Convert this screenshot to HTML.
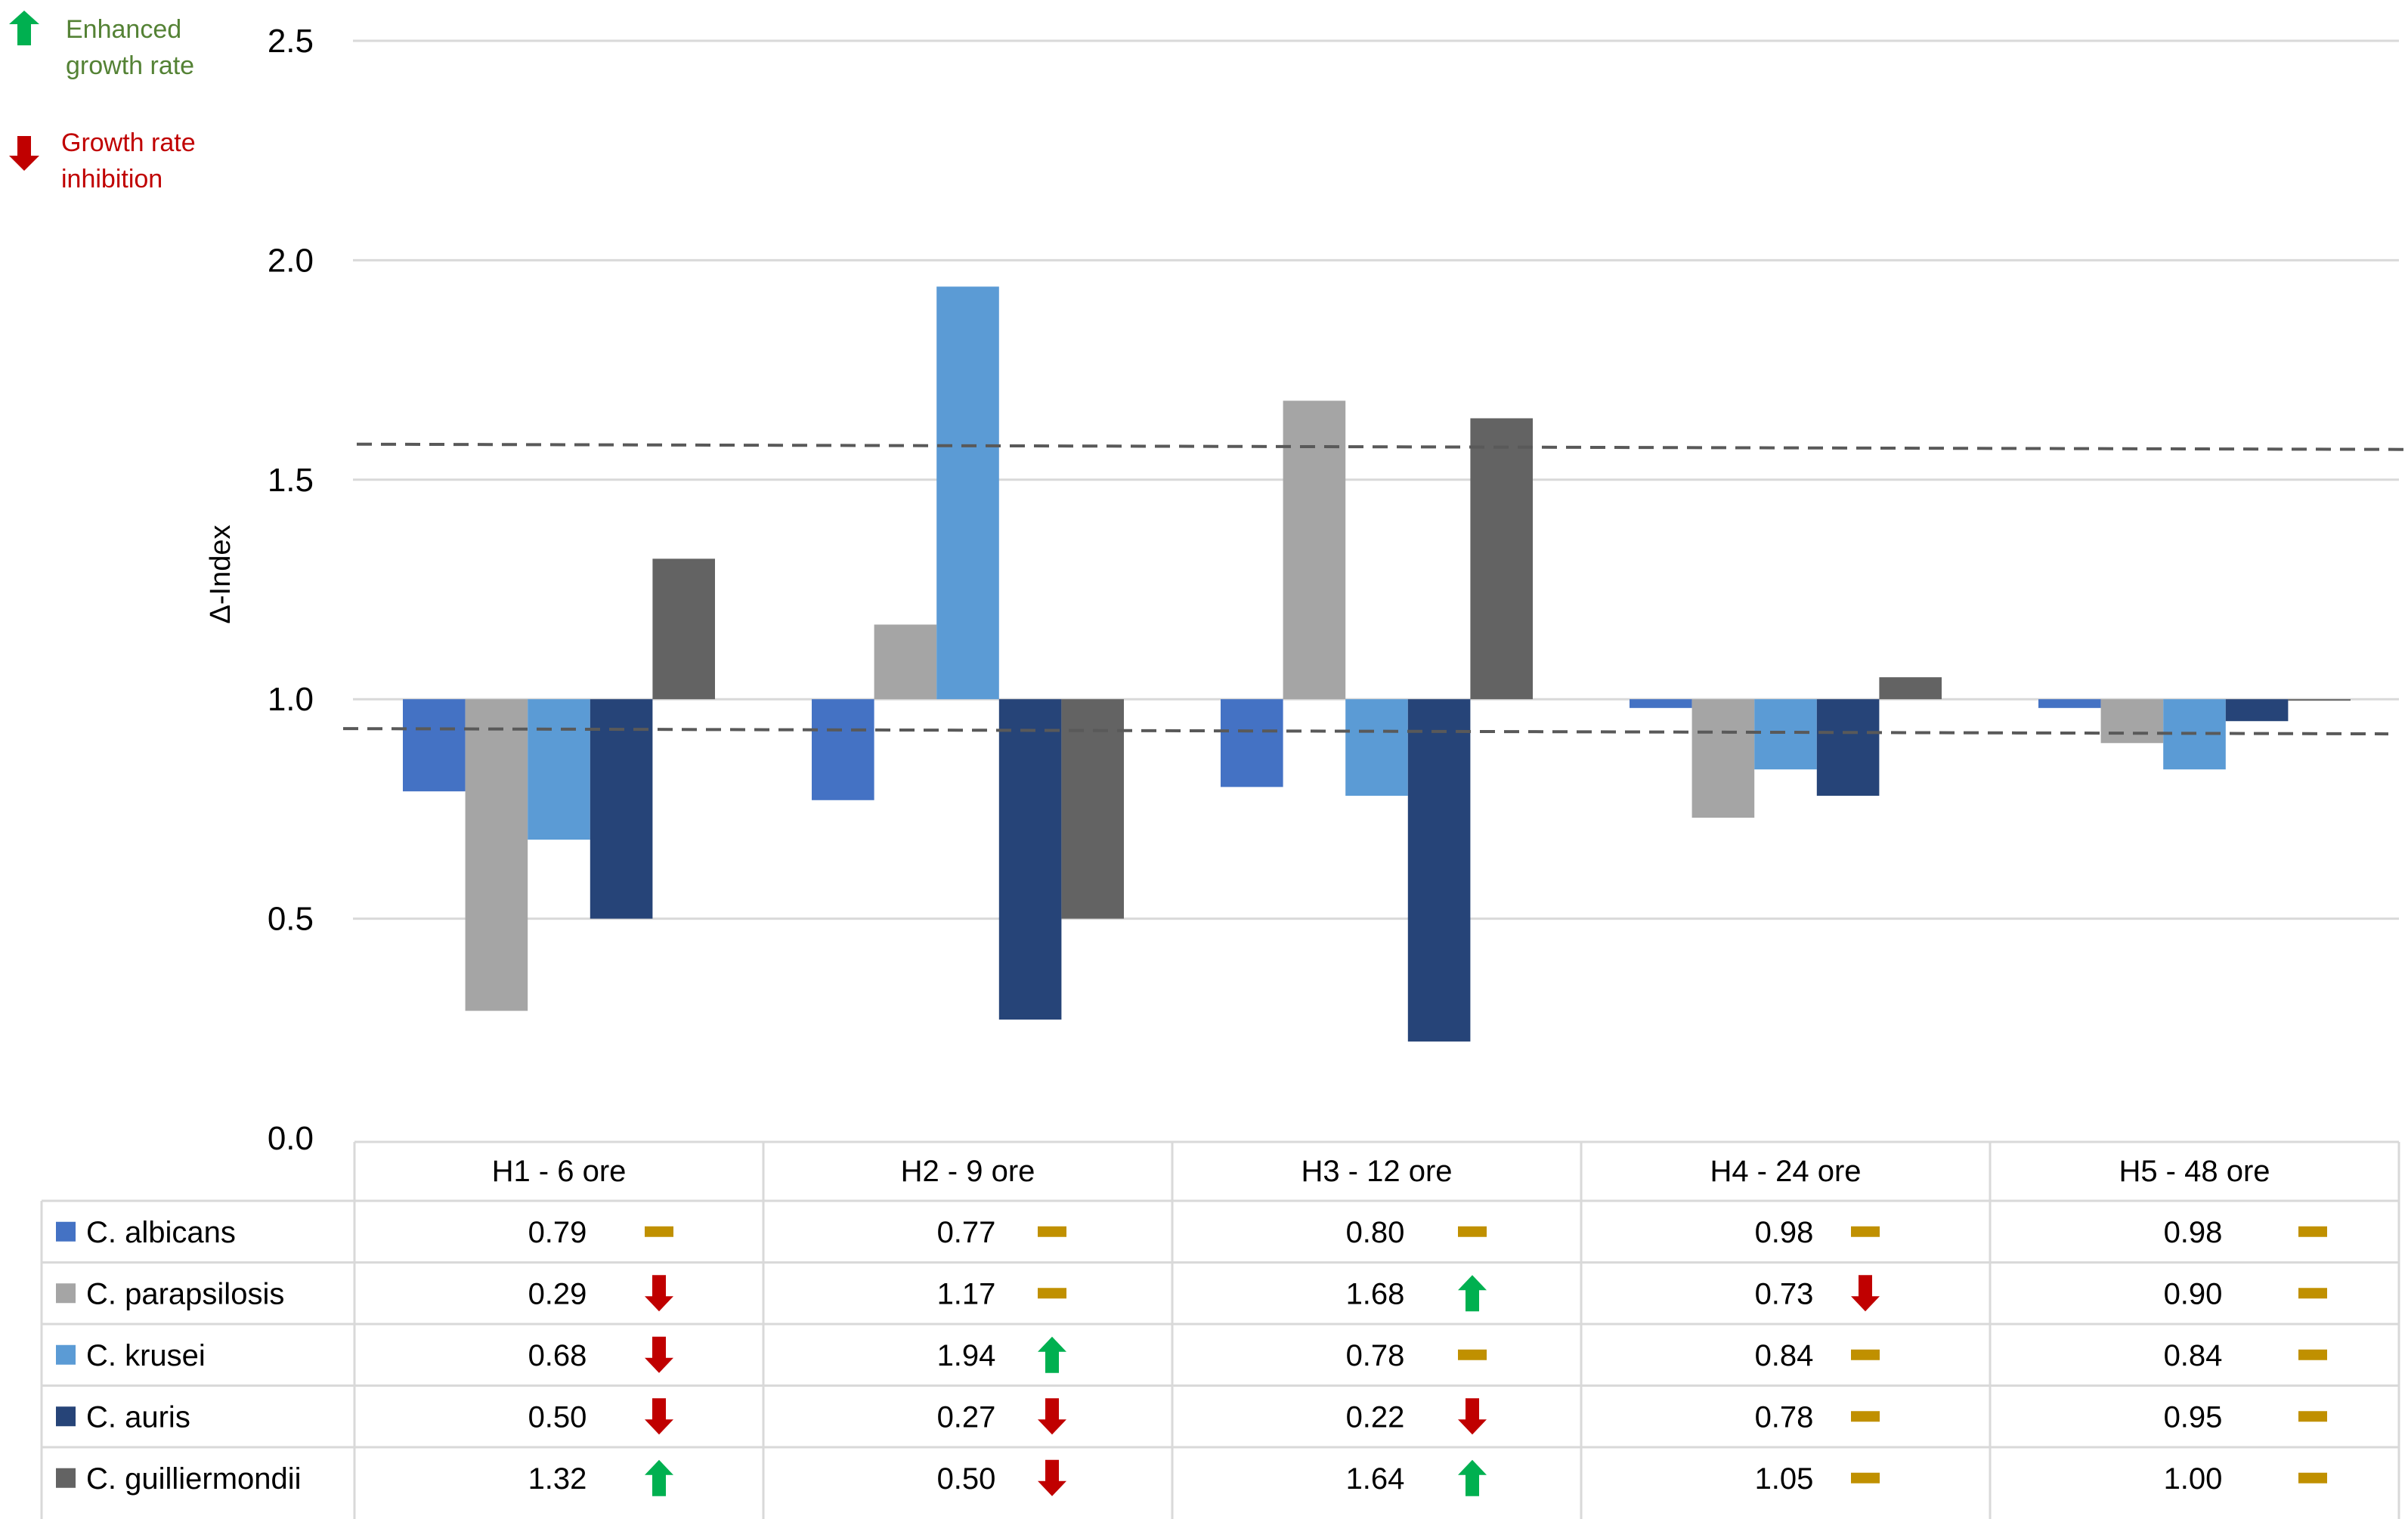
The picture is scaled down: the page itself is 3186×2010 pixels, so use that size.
<!DOCTYPE html>
<html><head><meta charset="utf-8">
<style>
html,body{margin:0;padding:0;background:#fff;}
svg{display:block;font-family:"Liberation Sans",sans-serif;}
</style></head>
<body>
<svg id="chart" width="3186" height="2010" viewBox="0 0 3186 2010" xmlns="http://www.w3.org/2000/svg">
  <g id="legend-top">
    <polygon points="32,14 52,32 41,32 41,60 23,60 23,32 12,32" fill="#00B050"/>
    <text x="87" y="50" font-size="34" fill="#548235">Enhanced</text>
    <text x="87" y="98" font-size="34" fill="#548235">growth rate</text>
    <polygon points="23,180 41,180 41,206 52,206 32,226 12,206 23,206" fill="#C00000"/>
    <text x="81" y="200" font-size="34" fill="#C00000">Growth rate</text>
    <text x="81" y="248" font-size="34" fill="#C00000">inhibition</text>
  </g>
  <g id="grid"></g>
  <g id="bars"></g>
  <g id="dashes"></g>
  <g id="yticks"></g>
  <text transform="translate(304,760) rotate(-90)" text-anchor="middle" font-size="38" fill="#000">Δ-Index</text>
  <g id="table"></g>
</svg>
<script>
const categories = ["H1 - 6 ore","H2 - 9 ore","H3 - 12 ore","H4 - 24 ore","H5 - 48 ore"];
const seriesNames = ["C. albicans","C. parapsilosis","C. krusei","C. auris","C. guilliermondii"];
const albicans = [0.79,0.77,0.80,0.98,0.98];
const parapsilosis = [0.29,1.17,1.68,0.73,0.90];
const krusei = [0.68,1.94,0.78,0.84,0.84];
const auris = [0.50,0.27,0.22,0.78,0.95];
const guilliermondii = [1.32,0.50,1.64,1.05,1.00];
const trends = [
  ["flat","flat","flat","flat","flat"],
  ["down","flat","up","down","flat"],
  ["down","up","flat","flat","flat"],
  ["down","down","down","flat","flat"],
  ["up","down","up","flat","flat"]
];
const yTicks = [0,0.5,1.0,1.5,2.0,2.5];
const yTickLabels = ["0.0","0.5","1.0","1.5","2.0","2.5"];
const baseline = 1.0;
const upperThreshold = [1.581,1.569];
const lowerThreshold = [0.933,0.921];

const series = [albicans,parapsilosis,krusei,auris,guilliermondii];
const colors = ["#4472C4","#A5A5A5","#5B9BD5","#264478","#636363"];
const NS="http://www.w3.org/2000/svg";
const plotL=469, plotR=3174, colW=(plotR-plotL)/categories.length;
const y0px=1506, y25px=54;
function yS(v){return y0px-(y0px-y25px)*v/2.5;}
function xS(i){return plotL+i*colW;}
function mk(tag,attrs,parent){const e=document.createElementNS(NS,tag);for(const k in attrs)e.setAttribute(k,attrs[k]);parent.appendChild(e);return e;}

const grid=document.getElementById('grid');
const yt=document.getElementById('yticks');
yTicks.forEach((t,i)=>{
  if(t>0){const l=mk('line',{x1:plotL-2,x2:plotR,y1:yS(t),y2:yS(t),stroke:'#D9D9D9','stroke-width':3},grid);
  
  }
  const tx=mk('text',{x:415,y:yS(t)+15,'text-anchor':'end','font-size':44,fill:'#000'},yt);
  tx.textContent=yTickLabels[i];
  
  
});

const bars=document.getElementById('bars');
const barW=82.6, groupOff=64;
series.forEach((s,si)=>{
  s.forEach((v,ci)=>{
    const x=xS(ci)+groupOff+si*barW;
    const top=Math.min(yS(v),yS(baseline)), h=Math.abs(yS(v)-yS(baseline));
    const r=mk('rect',{x:x,y:top,width:barW,height:Math.max(h,2),fill:colors[si]},bars);
    
    
  });
});

const dg=document.getElementById('dashes');
const d1=mk('line',{x1:472,x2:3180,y1:yS(upperThreshold[0]),y2:yS(upperThreshold[1]),stroke:'#595959','stroke-width':4,'stroke-dasharray':'20 12'},dg);


const d2=mk('line',{x1:454,x2:3160,y1:yS(lowerThreshold[0]),y2:yS(lowerThreshold[1]),stroke:'#595959','stroke-width':4,'stroke-dasharray':'20 12'},dg);



const tb=document.getElementById('table');
const tTop=1511, hdrBot=1589, rowH=81.5, tLeft=55;
const rowLines=[hdrBot,hdrBot+rowH,hdrBot+2*rowH,hdrBot+3*rowH,hdrBot+4*rowH];
const bc='#D9D9D9';
let ln=mk('line',{x1:plotL,x2:plotR,y1:tTop,y2:tTop,stroke:bc,'stroke-width':3},tb);


rowLines.forEach(y=>{const l=mk('line',{x1:tLeft,x2:plotR,y1:y,y2:y,stroke:bc,'stroke-width':3},tb);
  
  });
for(let i=0;i<=categories.length;i++){const l=mk('line',{x1:xS(i),x2:xS(i),y1:tTop,y2:2010,stroke:bc,'stroke-width':3},tb);
  
  }
ln=mk('line',{x1:tLeft,x2:tLeft,y1:hdrBot,y2:2010,stroke:bc,'stroke-width':3},tb);


categories.forEach((c,i)=>{
  const t=mk('text',{x:xS(i)+colW/2,y:1563,'text-anchor':'middle','font-size':40,fill:'#000'},tb);
  t.textContent=c;
  
  
});
const arrowOff=[403,382,397,376,427];
function icon(kind,cx,cy){
  let el;
  if(kind==='up') el=mk('polygon',{points:`${cx},${cy-24} ${cx+19},${cy-4} ${cx+9},${cy-4} ${cx+9},${cy+24} ${cx-9},${cy+24} ${cx-9},${cy-4} ${cx-19},${cy-4}`,fill:'#00B050'},tb);
  else if(kind==='down') el=mk('polygon',{points:`${cx-9},${cy-24} ${cx+9},${cy-24} ${cx+9},${cy+4} ${cx+19},${cy+4} ${cx},${cy+24} ${cx-19},${cy+4} ${cx-9},${cy+4}`,fill:'#C00000'},tb);
  else el=mk('rect',{x:cx-19,y:cy-7,width:38,height:14,fill:'#C09000'},tb);
  return el;
}
seriesNames.forEach((n,si)=>{
  const cy=hdrBot+rowH*si+rowH/2;
  const sw=mk('rect',{x:74,y:cy-13,width:26,height:26,fill:colors[si]},tb);
  
  
  const t=mk('text',{x:114,y:cy+14,'font-size':40,fill:'#000'},tb);
  t.textContent=n;
  
  
  series[si].forEach((v,ci)=>{
    const vt=mk('text',{x:xS(ci)+colW/2-2,y:cy+14,'text-anchor':'middle','font-size':40,fill:'#000'},tb);
    vt.textContent=v.toFixed(2);
    
    
    const ic=icon(trends[si][ci],xS(ci)+arrowOff[ci],cy);
    
    
  });
});
</script>
</body></html>
